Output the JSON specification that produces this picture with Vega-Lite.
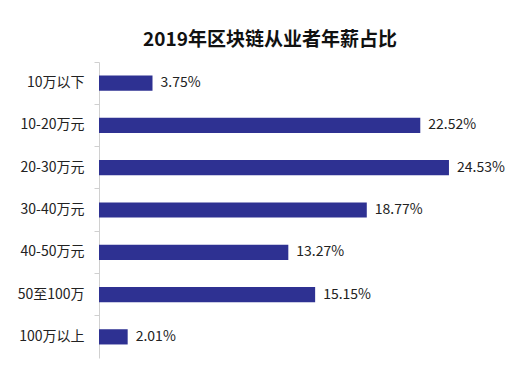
{
  "$schema": "https://vega.github.io/schema/vega-lite/v6.json",
  "autosize": "none",
  "padding": {"left": 99, "top": 62, "right": 5, "bottom": 15},
  "width": 428,
  "height": 296,
  "background": "white",
  "title": {
    "text": "2019年区块链从业者年薪占比",
    "font": "Noto Sans CJK SC",
    "fontSize": 19,
    "fontWeight": "bold",
    "color": "#111111",
    "anchor": "middle",
    "dx": -43,
    "offset": 12
  },
  "data": {
    "values": [
      {"range": "10万以下", "pct": 3.75, "label": "3.75%"},
      {"range": "10-20万元", "pct": 22.52, "label": "22.52%"},
      {"range": "20-30万元", "pct": 24.53, "label": "24.53%"},
      {"range": "30-40万元", "pct": 18.77, "label": "18.77%"},
      {"range": "40-50万元", "pct": 13.27, "label": "13.27%"},
      {"range": "50至100万", "pct": 15.15, "label": "15.15%"},
      {"range": "100万以上", "pct": 2.01, "label": "2.01%"}
    ]
  },
  "encoding": {
    "y": {
      "field": "range",
      "type": "nominal",
      "sort": null,
      "title": null,
      "scale": {"paddingInner": 0, "paddingOuter": 0},
      "axis": {
        "bandPosition": 0,
        "domainColor": "#d0d0d0",
        "tickColor": "#d0d0d0",
        "tickSize": 5,
        "labelPadding": 10,
        "labelFont": "Noto Sans CJK SC",
        "labelFontSize": 14,
        "labelColor": "#222222",
        "labelOffset": 0
      }
    },
    "x": {
      "field": "pct",
      "type": "quantitative",
      "scale": {"domain": [0, 30], "nice": false},
      "axis": null
    }
  },
  "layer": [
    {"mark": {"type": "bar", "color": "#2E3192", "height": {"band": 0.36}}},
    {
      "mark": {
        "type": "text",
        "align": "left",
        "baseline": "middle",
        "dx": 8,
        "font": "Noto Sans CJK SC",
        "fontSize": 14,
        "color": "#222222"
      },
      "encoding": {"text": {"field": "label"}}
    }
  ],
  "config": {"view": {"stroke": null}}
}
